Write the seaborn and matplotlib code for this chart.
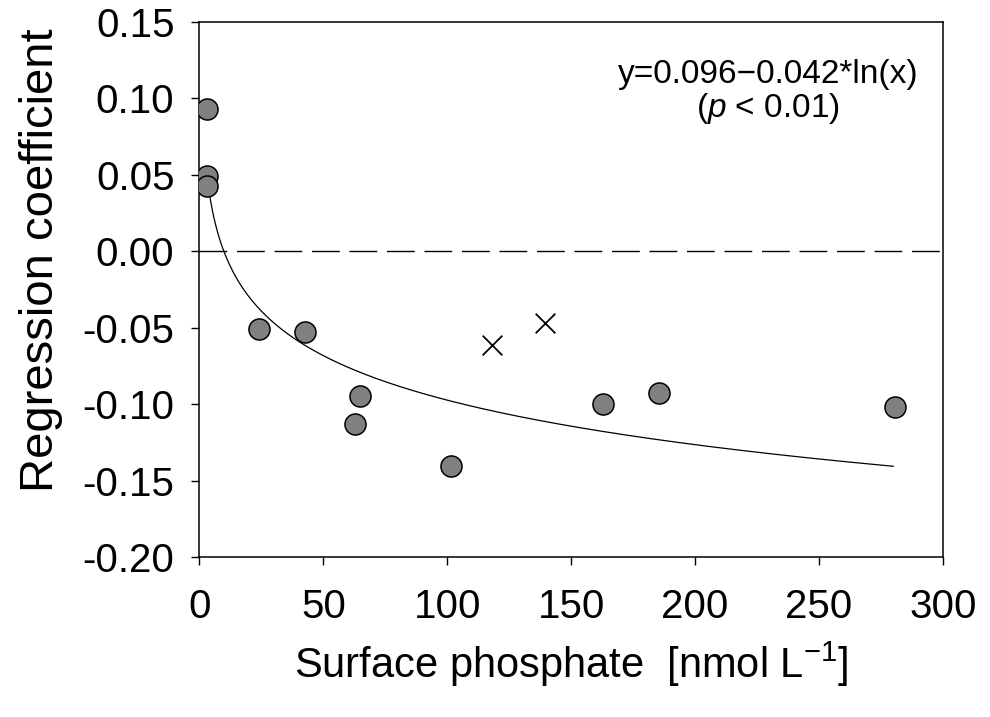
import numpy as np
import pandas as pd
import matplotlib
matplotlib.use('Agg')
import matplotlib.pyplot as plt
import seaborn as sns

# Stations used for the fit (grey circles)
phosphate = [2.9, 2.9, 2.9, 24.1, 42.6, 64.6, 62.6, 101.4, 163.0, 185.4, 280.7]
coefficient = [0.093, 0.049, 0.043, -0.051, -0.053, -0.095, -0.113, -0.1405, -0.100, -0.093, -0.102]

# Excluded stations (crosses)
phosphate_excl = [117.9, 139.6]
coefficient_excl = [-0.061, -0.047]

# Logarithmic fit y = a - b*ln(x)
fit_a = 0.096
fit_b = 0.042
fit_range = (3.0, 280.0)

yticks = [-0.20, -0.15, -0.10, -0.05, 0.00, 0.05, 0.10, 0.15]
ytick_labels = ['-0.20', '-0.15', '-0.10', '-0.05', '0.00', '0.05', '0.10', '0.15']
xticks = [0, 50, 100, 150, 200, 250, 300]

sns.set_theme(style='ticks')
plt.rcParams['font.family'] = ['Liberation Sans', 'DejaVu Sans']
plt.rcParams['mathtext.fontset'] = 'custom'
plt.rcParams['mathtext.rm'] = 'Liberation Sans'
plt.rcParams['mathtext.it'] = 'Liberation Sans:italic'
plt.rcParams['mathtext.default'] = 'regular'
plt.rcParams['text.color'] = 'black'
plt.rcParams['axes.labelcolor'] = 'black'

df = pd.DataFrame({'phosphate': phosphate, 'coef': coefficient})
df_excl = pd.DataFrame({'phosphate': phosphate_excl, 'coef': coefficient_excl})
xfit = np.linspace(fit_range[0], fit_range[1], 400)
df_fit = pd.DataFrame({'x': xfit, 'y': fit_a - fit_b * np.log(xfit)})

fig = plt.figure(figsize=(9.9, 7.17), dpi=100)
ax = fig.add_axes([0.2015, 0.2232, 0.751, 0.7461])

ax.axhline(0, color='black', lw=1.0, linestyle=(0, (20, 7)), zorder=1)
sns.lineplot(data=df_fit, x='x', y='y', ax=ax, color='black', lw=0.9, zorder=2)
sns.scatterplot(data=df, x='phosphate', y='coef', ax=ax, s=230, color='#808080',
                edgecolor='black', linewidth=1.1, zorder=3)
sns.scatterplot(data=df_excl, x='phosphate', y='coef', ax=ax, s=200, marker='x',
                color='black', linewidth=1.3, zorder=3)

ax.set_xlim(0, 300)
ax.set_ylim(-0.20, 0.15)
ax.set_xticks(xticks)
ax.set_yticks(yticks)
ax.set_yticklabels(ytick_labels)
ax.tick_params(axis='both', direction='out', length=6, width=1.0, labelsize=29,
               color='black', labelcolor='black')
ax.tick_params(axis='y', pad=12)
ax.tick_params(axis='x', pad=16)

for sp in ax.spines.values():
    sp.set_visible(True)
    sp.set_linewidth(1.1)
    sp.set_color('black')

ax.set_xlabel('Surface phosphate  [nmol L$^{-1}$]', fontsize=30, labelpad=10)
ax.set_ylabel('Regression coefficient', fontsize=34)
ax.yaxis.set_label_coords(-0.183, 0.555)

ax.text(0.765, 0.868, 'y=0.096\u22120.042*ln(x)\n($\\it{p}$ < 0.01)', transform=ax.transAxes,
        ha='center', va='center', fontsize=24, linespacing=1.05)

fig.savefig('out.png', dpi=100)
